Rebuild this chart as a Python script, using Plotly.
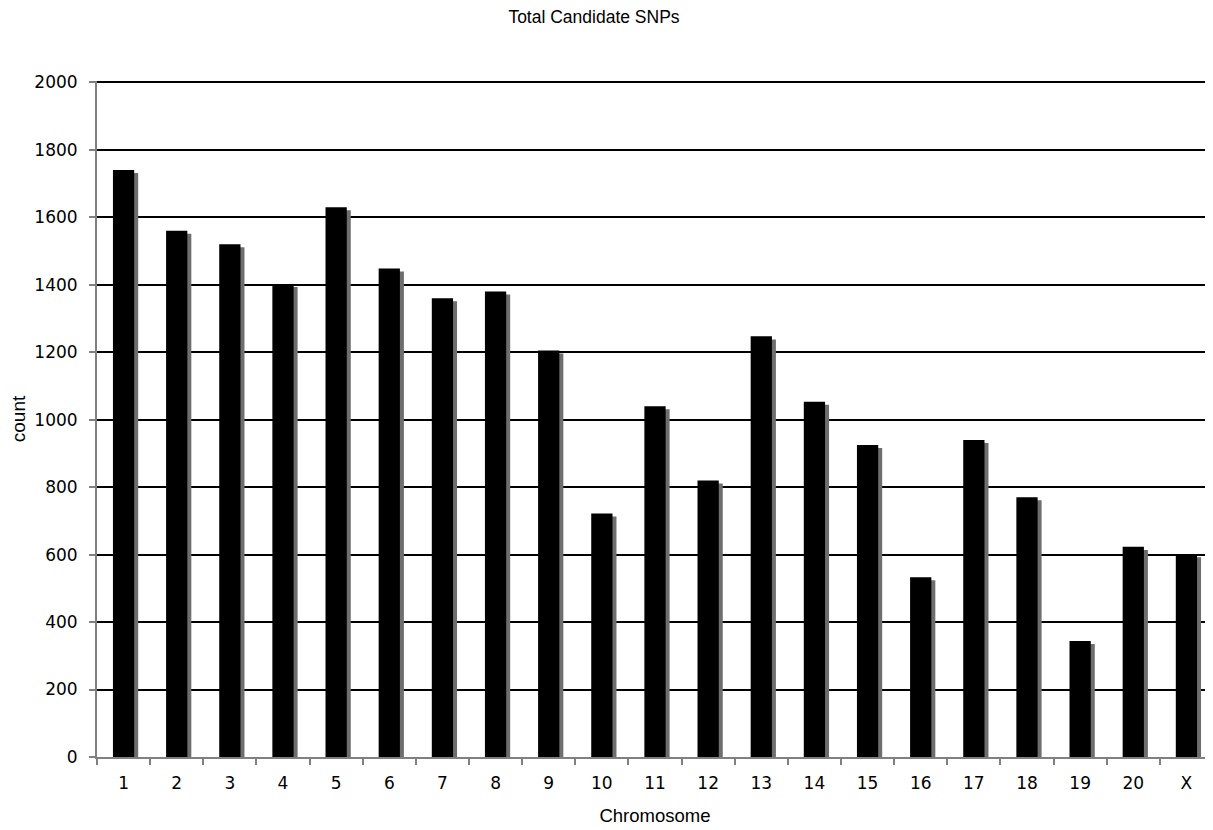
import plotly.graph_objects as go

chromosomes = ["1","2","3","4","5","6","7","8","9","10","11","12","13","14","15","16","17","18","19","20","X"]
counts = [1740, 1560, 1520, 1402, 1630, 1448, 1360, 1380, 1205, 722, 1040, 820, 1247, 1053, 925, 533, 940, 770, 344, 623, 601]
shadow_drop = [9] * len(counts)

fig = go.Figure()
fig.add_trace(go.Bar(
    x=chromosomes, y=counts, base=[-d for d in shadow_drop],
    width=0.4, offset=-0.125,
    marker=dict(color="#6e6e6e", line=dict(width=0)),
    hoverinfo="skip", showlegend=False,
))
fig.add_trace(go.Bar(
    x=chromosomes, y=counts,
    width=0.4, offset=-0.2,
    marker=dict(color="#000000", line=dict(width=0)),
    showlegend=False, name="count",
))

fig.update_layout(
    width=1205, height=822,
    barmode="overlay",
    plot_bgcolor="white", paper_bgcolor="white",
    margin=dict(l=89, r=0, t=73, b=73, autoexpand=False),
    title=dict(text="Total Candidate SNPs", x=586 / 1205, xanchor="center",
               y=1 - 9 / 822, yanchor="middle", yref="container",
               font=dict(family="Liberation Sans, Arial", size=17.5, color="#000")),
    xaxis=dict(
        type="category", range=[-0.5, 20.5], automargin=False,
        showline=True, linecolor="#808080", linewidth=2,
        ticks="outside", tickson="boundaries", ticklen=6, tickcolor="#808080", tickwidth=2,
        ticklabelstandoff=10,
        showgrid=False,
        tickfont=dict(family="DejaVu Sans, Verdana", size=17, color="#000"),
        title=dict(text="Chromosome", standoff=17,
                   font=dict(family="Liberation Sans, Arial", size=18.5, color="#000")),
    ),
    yaxis=dict(
        range=[0, 2004], dtick=200, automargin=False,
        showline=True, linecolor="#808080", linewidth=2,
        ticks="outside", ticklen=6, tickcolor="#808080", tickwidth=2,
        ticklabelstandoff=8,
        showgrid=True, gridcolor="#000000", gridwidth=2,
        zeroline=False,
        tickfont=dict(family="DejaVu Sans, Verdana", size=17, color="#000"),
        title=dict(text="count", standoff=19,
                   font=dict(family="Liberation Sans, Arial", size=19, color="#000")),
    ),
)

fig.write_html("out.html")
